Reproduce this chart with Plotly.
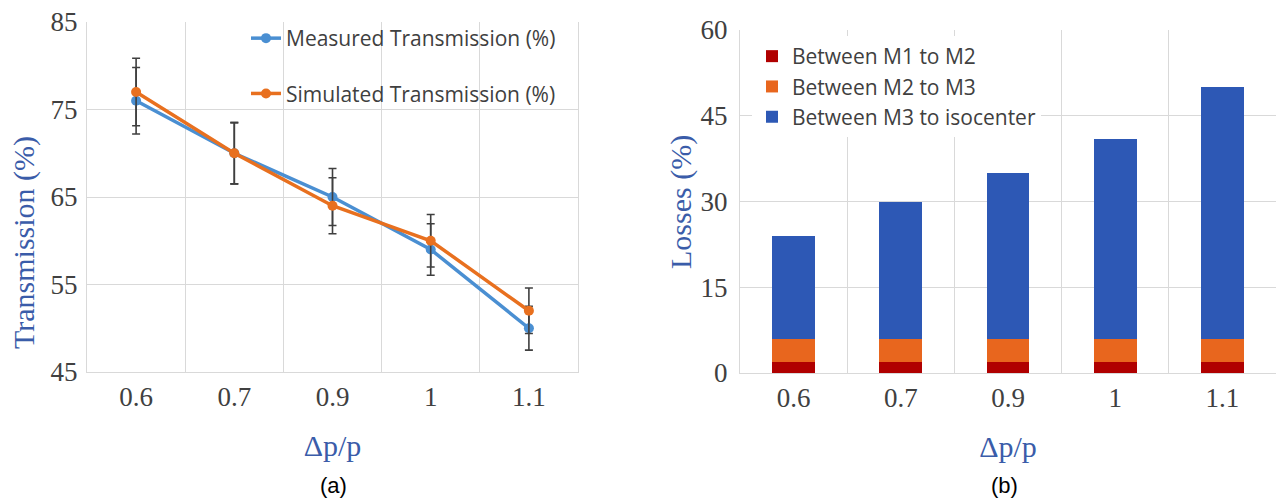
import plotly.graph_objects as go

# Momentum spread categories (Δp/p)
dp_labels = ["0.6", "0.7", "0.9", "1", "1.1"]

# (a) Transmission (%)
measured = [76, 70, 65, 59, 50]
measured_err = [3.8, 3.5, 3.25, 2.95, 2.5]
simulated = [77, 70, 64, 60, 52]
simulated_err = [3.85, 3.5, 3.2, 3.0, 2.6]

# (b) Losses (%) split by beamline section
loss_m1_m2 = [2, 2, 2, 2, 2]
loss_m2_m3 = [4, 4, 4, 4, 4]
loss_m3_iso = [18, 24, 29, 35, 44]

W, H = 1276, 500
BLUE_LINE = "#4a8fd2"
ORANGE_LINE = "#e8701f"
ERR = "#3f3f3f"
GRID = "#d9d9d9"
TXT = "#404040"
TITLE_BLUE = "#3a5ca9"
SERIF = "Liberation Serif, Times New Roman, serif"
SANS = "Open Sans, sans-serif"

fig = go.Figure()

fig.add_trace(go.Scatter(
    x=dp_labels, y=measured, name="Measured Transmission (%)",
    mode="lines+markers", legendgroup="meas",
    line=dict(color=BLUE_LINE, width=3.5),
    marker=dict(color=BLUE_LINE, size=10),
    error_y=dict(type="data", array=measured_err, color=ERR, thickness=1.6, width=4),
    xaxis="x", yaxis="y", legend="legend",
))
fig.add_trace(go.Scatter(
    x=dp_labels, y=simulated, name="Simulated Transmission (%)",
    mode="lines+markers", legendgroup="sim",
    line=dict(color=ORANGE_LINE, width=3.5),
    marker=dict(color=ORANGE_LINE, size=10),
    error_y=dict(type="data", array=simulated_err, color=ERR, thickness=1.6, width=4),
    xaxis="x", yaxis="y", legend="legend",
))

for vals, name, col in [
    (loss_m1_m2, "Between M1 to M2", "#b00000"),
    (loss_m2_m3, "Between M2 to M3", "#e8661e"),
    (loss_m3_iso, "Between M3 to isocenter", "#2d58b5"),
]:
    fig.add_trace(go.Bar(
        x=dp_labels, y=vals, name=name, marker=dict(color=col, line=dict(width=0)),
        width=0.4, xaxis="x2", yaxis="y2", legend="legend2",
    ))

tick_font = dict(family=SERIF, size=27, color=TXT)
title_font = dict(family=SERIF, size=30, color=TITLE_BLUE)


def px_x(p):
    return p / W


def px_y(p):
    return 1 - p / H


xcommon = dict(
    type="category", tickson="boundaries", showgrid=True, gridcolor=GRID, gridwidth=1.3,
    showline=True, linecolor=GRID, linewidth=1.3, mirror=False, ticks="",
    range=[-0.5, 4.5], tickfont=tick_font, fixedrange=True, automargin=False,
    title=dict(text="Δp/p", font=title_font, standoff=24),
)
ycommon = dict(
    showgrid=True, gridcolor=GRID, gridwidth=1.3, zeroline=False,
    showline=True, linecolor=GRID, linewidth=1.3,
    tickfont=tick_font, ticks="", automargin=False, fixedrange=True,
)

fig.update_layout(
    width=W, height=H,
    margin=dict(l=0, r=0, t=0, b=0, autoexpand=False),
    paper_bgcolor="white", plot_bgcolor="white",
    barmode="stack", showlegend=True,
    xaxis=dict(domain=[px_x(87), px_x(578)], anchor="y", **xcommon),
    yaxis=dict(domain=[px_y(372), px_y(22)], anchor="x", range=[45, 85], tick0=45, dtick=10,
               mirror=True, ticklabelstandoff=3, **ycommon),
    xaxis2=dict(domain=[px_x(740), 1.0], anchor="y2", **xcommon),
    yaxis2=dict(domain=[px_y(373), px_y(30)], anchor="x2", range=[0, 60], tick0=0, dtick=15,
                ticklabelstandoff=6, **ycommon),
    legend=dict(
        x=px_x(246), y=px_y(18), xanchor="left", yanchor="top",
        font=dict(family=SANS, size=21, color=TXT),
        bgcolor="rgba(0,0,0,0)", traceorder="grouped", tracegroupgap=25,
        itemclick=False, itemdoubleclick=False,
    ),
    legend2=dict(
        x=px_x(752), y=px_y(36), xanchor="left", yanchor="top",
        font=dict(family=SANS, size=21, color=TXT),
        bgcolor="white", traceorder="normal", tracegroupgap=0,
        itemclick=False, itemdoubleclick=False,
    ),
    annotations=[
        dict(text="Transmission (%)", x=px_x(24), y=px_y(243), xref="paper", yref="paper",
             xanchor="center", yanchor="middle",
             textangle=-90, showarrow=False, font=title_font),
        dict(text="Losses (%)", x=px_x(681), y=px_y(202), xref="paper", yref="paper",
             xanchor="center", yanchor="middle",
             textangle=-90, showarrow=False, font=title_font),
        dict(text="(a)", x=px_x(333), y=px_y(485), xref="paper", yref="paper",
             xanchor="center", yanchor="middle",
             showarrow=False, font=dict(family="Liberation Sans, Arial, sans-serif", size=22, color="black")),
        dict(text="(b)", x=px_x(1004), y=px_y(485), xref="paper", yref="paper",
             xanchor="center", yanchor="middle",
             showarrow=False, font=dict(family="Liberation Sans, Arial, sans-serif", size=22, color="black")),
    ],
)

fig.write_html("out.html", config={"displayModeBar": False})
